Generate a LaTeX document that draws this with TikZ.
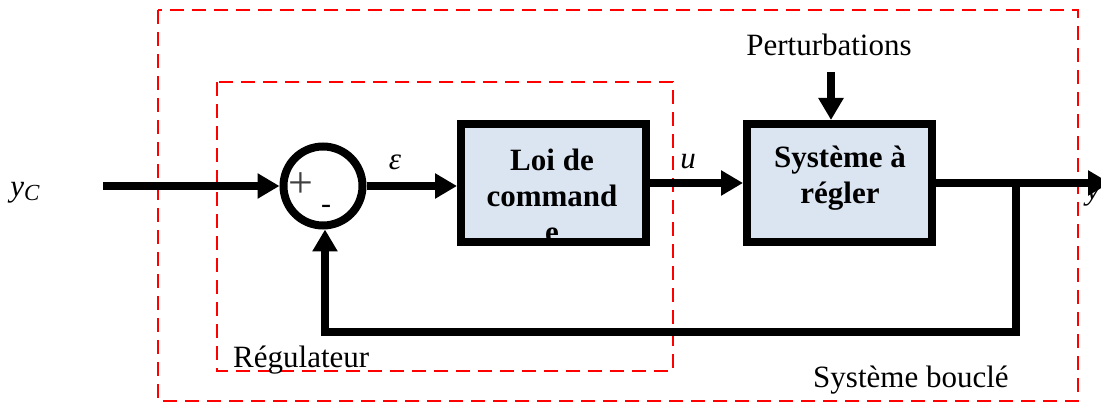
\documentclass[tikz,border=0pt]{standalone}
\usepackage{fontspec}
\setmainfont{Liberation Serif}
\usetikzlibrary{arrows.meta}
\definecolor{boxfill}{HTML}{DBE4F1}
\begin{document}
\begin{tikzpicture}[x=1pt,y=-1pt,
  sig/.style={line width=8pt,-{Triangle[length=22pt,width=24pt]}},
  wire/.style={line width=8pt},
  blk/.style={draw,line width=8pt,fill=boxfill,inner sep=0pt},
  frame/.style={draw=red,line width=1.5pt,dash pattern=on 14pt off 8pt},
  lbl/.style={font=\fontsize{31}{36}\selectfont,inner sep=0pt},
  blktxt/.style={font=\bfseries\fontsize{31}{36}\selectfont,align=center,inner sep=0pt}]
\useasboundingbox (0,0) rectangle (1101,403);
% frames
\draw[frame] (158,10) rectangle (1078,401);
\draw[frame] (217,82) rectangle (673,371);
% blocks
\node[blk,minimum width=185pt,minimum height=118pt] (loi) at (553.5,183) {};
\node[blktxt] (loitxt) at (552,196) {Loi de\\command\\e};
\node[blk,minimum width=185pt,minimum height=118pt] (sys) at (839.5,183) {};
\node[blktxt] (systxt) at (840,178) {Système à\\régler};
% summing junction
\node[draw,circle,line width=8pt,minimum size=79pt,inner sep=0pt] (sum) at (323,186) {};
\node[text=black!75,font=\fontsize{44}{46}\selectfont,inner sep=0pt] (plus) at (301,185) {+};
\node[font=\fontsize{30}{30}\selectfont,inner sep=0pt] (minus) at (326,209) {-};
% labels
\node[lbl,anchor=base] (yc) at (25,197) {\itshape y\raisebox{-4pt}{\fontsize{23}{24}\selectfont C}};
\node[lbl] (eps) at (395,162) {\itshape ε};
\node[lbl] (u) at (688,162) {\itshape u};
\node[lbl,anchor=base] (pert) at (829,56) {Perturbations};
\node[lbl,anchor=base west] (reg) at (233,367) {Régulateur};
\node[lbl,anchor=base west] (sb) at (813,388) {Système bouclé};
\node[lbl,anchor=base west] (yout) at (1086,200) {\itshape y};
% coordinates
\coordinate (in) at (103,186);
\coordinate (ptop) at (831,72);
\coordinate (out) at (1110,183);
\coordinate (br) at (1016,183);
\coordinate (c1) at (1016,332);
\coordinate (c2) at (325,332);
% signals
\draw[sig] (in) -- (sum.west);
\draw[sig] (sum.east) -- (sum.east -| loi.west);
\draw[sig] (loi.east) -- (loi.east -| sys.west);
\draw[sig] (ptop) -- (ptop |- sys.north);
\draw[sig] (sys.east) -- (out);
\draw[wire] (br) -- (c1) -- (c2) -- ++(0,-10);
\draw[sig] ([yshift=4pt]c2) -- (c2 |- sum.south);
\end{tikzpicture}
\end{document}
